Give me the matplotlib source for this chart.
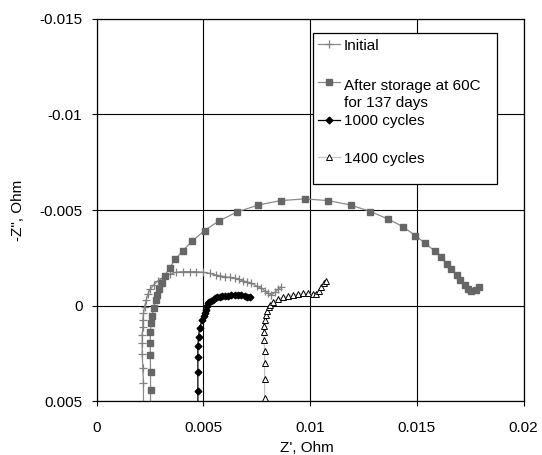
import matplotlib
matplotlib.use("Agg")
import matplotlib.pyplot as plt
from matplotlib.lines import Line2D
from matplotlib.patches import Rectangle

plt.rcParams['font.family'] = ['Liberation Sans', 'DejaVu Sans']

# ---------------- data ----------------
x_ticks = [0, 0.005, 0.01, 0.015, 0.02]
x_tick_labels = ["0", "0.005", "0.01", "0.015", "0.02"]
y_ticks = [-0.015, -0.01, -0.005, 0, 0.005]
y_tick_labels = ["-0.015", "-0.01", "-0.005", "0", "0.005"]

series_labels = ["Initial", "After storage at 60C\nfor 137 days", "1000 cycles", "1400 cycles"]

init_x = [0.00220, 0.00220, 0.00217, 0.00214, 0.00214, 0.00214, 0.00217, 0.00217, 0.00220,
          0.00225, 0.00233, 0.00240, 0.00252, 0.00267, 0.00287, 0.00311, 0.00342, 0.00374,
          0.00404, 0.00436, 0.00467, 0.00498, 0.00530, 0.00561, 0.00580, 0.00600, 0.00623,
          0.00647, 0.00665, 0.00684, 0.00705, 0.00725, 0.00750, 0.00772, 0.00787, 0.00803,
          0.00819, 0.00834, 0.00850, 0.00866]
init_y = [0.00545, 0.00405, 0.00324, 0.00254, 0.00196, 0.00153, 0.00110, 0.00075, 0.00040,
          0.00005, -0.00030, -0.00060, -0.00086, -0.00108, -0.00129, -0.00146, -0.00164, -0.00175,
          -0.00178, -0.00178, -0.00178, -0.00175, -0.00169, -0.00160, -0.00156, -0.00152, -0.00148,
          -0.00143, -0.00137, -0.00131, -0.00124, -0.00117, -0.00103, -0.00091, -0.00078, -0.00065,
          -0.00056, -0.00069, -0.00085, -0.00100]

stor_x = [0.00253, 0.00253, 0.00253, 0.00252, 0.00252, 0.00252, 0.00256, 0.00261, 0.00267,
          0.00277, 0.00284, 0.00295, 0.00306, 0.00319, 0.00342, 0.00369, 0.00404, 0.00448,
          0.00506, 0.00573, 0.00659, 0.00757, 0.00862, 0.00975, 0.01086, 0.01190, 0.01283,
          0.01365, 0.01435, 0.01493, 0.01540, 0.01583, 0.01615, 0.01639, 0.01662, 0.01686,
          0.01704, 0.01724, 0.01740, 0.01756, 0.01776, 0.01792]
stor_y = [0.00545, 0.00440, 0.00345, 0.00258, 0.00196, 0.00139, 0.00092, 0.00052, 0.00010,
          -0.00030, -0.00056, -0.00086, -0.00117, -0.00155, -0.00199, -0.00242, -0.00287, -0.00338,
          -0.00392, -0.00443, -0.00490, -0.00526, -0.00549, -0.00558, -0.00549, -0.00526, -0.00492,
          -0.00453, -0.00413, -0.00366, -0.00326, -0.00286, -0.00252, -0.00218, -0.00190, -0.00160,
          -0.00134, -0.00108, -0.00086, -0.00077, -0.00082, -0.00096]

c1000_x = [0.004747, 0.004747, 0.004747, 0.004747, 0.004747, 0.00478, 0.004827, 0.004953, 0.005014,
           0.005061, 0.005108, 0.005155, 0.005216, 0.005272, 0.005342, 0.005436, 0.00553, 0.005647,
           0.005764, 0.005881, 0.005998, 0.006139, 0.006312, 0.006467, 0.006621, 0.006771, 0.006935,
           0.007052, 0.00717]
c1000_y = [0.00545, 0.00446, 0.00348, 0.00266, 0.00209, 0.00162, 0.00114, 0.00077, 0.00054,
           0.00036, 0.00020, 0.00004, -0.00013, -0.00019, -0.00026, -0.00032, -0.00039, -0.00043,
           -0.00047, -0.00049, -0.00051, -0.00053, -0.00054, -0.00055, -0.00056, -0.00054, -0.00051,
           -0.00048, -0.00048]

c1400_x = [0.007872, 0.007872, 0.007872, 0.007872, 0.007872, 0.00784, 0.00784, 0.00784, 0.007872,
           0.00792, 0.00798, 0.008074, 0.008107, 0.008247, 0.008482, 0.008716, 0.00895, 0.009185,
           0.009419, 0.009653, 0.009887, 0.010122, 0.010295, 0.010403, 0.010529, 0.010637, 0.010764]
c1400_y = [0.00545, 0.00484, 0.00383, 0.00301, 0.00237, 0.00179, 0.00139, 0.00106, 0.00075,
           0.00049, 0.00028, 0.00008, -0.00006, -0.00021, -0.00033, -0.00044, -0.00051, -0.00056,
           -0.00061, -0.00065, -0.00065, -0.00061, -0.00059, -0.00078, -0.00099, -0.00117, -0.00129]

# ---------------- figure ----------------
W, H = 542, 455
fig = plt.figure(figsize=(W / 100, H / 100), dpi=100)
ax_l, ax_r, ax_t, ax_b = 96.5, 523.6, 18.6, 401.4
ax = fig.add_axes([ax_l / W, 1 - ax_b / H, (ax_r - ax_l) / W, (ax_b - ax_t) / H])

FS = 11
ax.set_xlim(0, 0.02)
ax.set_ylim(0.005, -0.015)
ax.set_xticks(x_ticks)
ax.set_xticklabels(x_tick_labels, fontsize=FS)
ax.set_yticks(y_ticks)
ax.set_yticklabels(y_tick_labels, fontsize=FS)
ax.tick_params(axis='both', direction='out', length=3.6, width=0.8, color='black')
ax.tick_params(axis='x', pad=10.5)
ax.tick_params(axis='y', pad=6.5)
ax.grid(True, color='black', linewidth=0.8)
ax.set_axisbelow(True)
for s in ax.spines.values():
    s.set_color('black')
    s.set_linewidth(0.9)

ax.set_xlabel("Z', Ohm", fontsize=FS)
ax.xaxis.set_label_coords(0.492, -0.103)
ax.set_ylabel('-Z", Ohm', fontsize=FS)
ax.yaxis.set_label_coords(-0.168, 0.5)

styles = [
    dict(color='#8a8a8a', lw=0.9, marker='+', ms=6, mew=0.9, mec='#808080'),
    dict(color='#8a8a8a', lw=0.9, marker='s', ms=4.6, mfc='#666666', mec='#666666'),
    dict(color='black', lw=0.9, marker='D', ms=3.4, mfc='black', mec='black'),
    dict(color='#c4c4c4', lw=0.9, marker='^', ms=4.2, mfc='white', mec='black', mew=0.7),
]
data = [(init_x, init_y), (stor_x, stor_y), (c1000_x, c1000_y), (c1400_x, c1400_y)]
for (xs, ys), st in zip(data, styles):
    ax.plot(xs, ys, **st)

# ---------------- legend (manual, Excel-like) ----------------
def fx(px):
    return px / W

def fy(py):
    return 1 - py / H

LINE_PX = 19.0
box = Rectangle((fx(313), fy(184)), (497 - 313) / W, (184 - 33) / H,
                transform=fig.transFigure, facecolor='white', edgecolor='black', lw=0.9)
fig.add_artist(box)
for i, (lab, st) in enumerate(zip(series_labels, styles)):
    yc = 44.3 + 37.7 * i
    fig.add_artist(Line2D([fx(318), fx(340)], [fy(yc), fy(yc)], transform=fig.transFigure,
                          color=st['color'], lw=st['lw']))
    mk = {k: v for k, v in st.items() if k not in ('color', 'lw')}
    fig.add_artist(Line2D([fx(329)], [fy(yc)], transform=fig.transFigure, linestyle='none',
                          color=st['color'], **mk))
    nlines = lab.count("\n") + 1
    fig.text(fx(344), fy(yc + 5.5 + (nlines - 1) * LINE_PX), lab, fontsize=FS,
             va='baseline', ha='left', linespacing=1.24)

fig.savefig("out.png", dpi=100)
